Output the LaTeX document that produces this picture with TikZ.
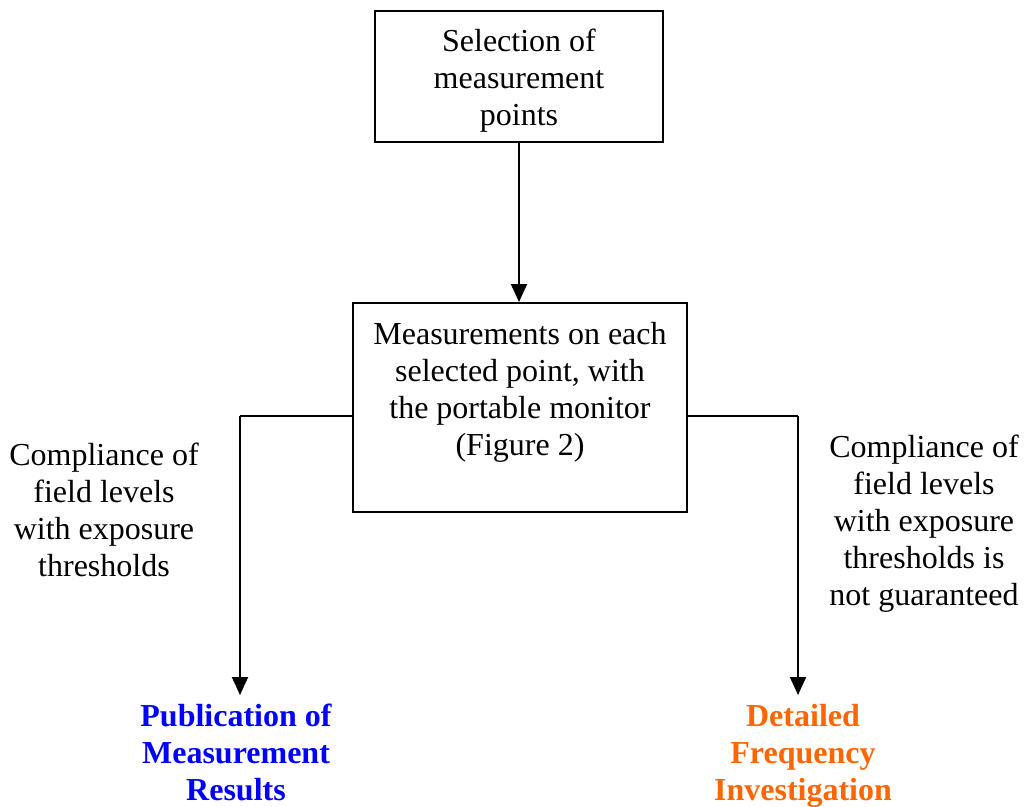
\documentclass[tikz,border=0pt]{standalone}
\usepackage{fontspec}
\setmainfont{Liberation Serif}
\usetikzlibrary{arrows.meta}
\definecolor{pubblue}{RGB}{0,0,255}
\definecolor{invorange}{RGB}{255,102,0}
\begin{document}
\begin{tikzpicture}[x=1pt,y=-1pt,
  every node/.style={font=\fontsize{32}{37}\selectfont, align=center, inner sep=0pt},
  stagebox/.style={draw, line width=2pt},
  flow/.style={line width=2pt, -{Triangle[width=16pt,length=18pt]}},
  branch/.style={line width=2pt},
  outcome/.style={font=\fontsize{32}{37}\selectfont\bfseries}]
\useasboundingbox (0,0) rectangle (1024,806);

% process boxes
\node[stagebox, minimum width=288pt, minimum height=131pt] (sel) at (519,76.5) {};
\node (seltxt) at (519,81) {Selection of\\measurement\\points};
\node[stagebox, minimum width=334pt, minimum height=209pt] (meas) at (520,407.5) {};
\node (meastxt) at (520,392.5) {Measurements on each\\selected point, with\\the portable monitor\\(Figure 2)};

% branch corners and outcomes
\coordinate (lcorner) at (240,416);
\coordinate (rcorner) at (798,416);
\node[outcome, text=pubblue] (pub) at (236,752) {Publication of\\Measurement\\Results};
\node[outcome, text=invorange] (inv) at (803,756) {Detailed\\Frequency\\Investigation};
\coordinate (ltip) at (240,695);
\coordinate (rtip) at (798,695);

% branch labels
\node (lcond) at (104,510) {Compliance of\\field levels\\with exposure\\thresholds};
\node (rcond) at (924,523.5) {Compliance of\\field levels\\with exposure\\thresholds is\\not guaranteed};

% connectors
\draw[flow] (sel.south) -- (meas.north -| sel.south);
\draw[branch] (meas.west |- lcorner) -- (lcorner);
\draw[flow] (lcorner) -- (ltip);
\draw[branch] (meas.east |- rcorner) -- (rcorner);
\draw[flow] (rcorner) -- (rtip);
\end{tikzpicture}
\end{document}
